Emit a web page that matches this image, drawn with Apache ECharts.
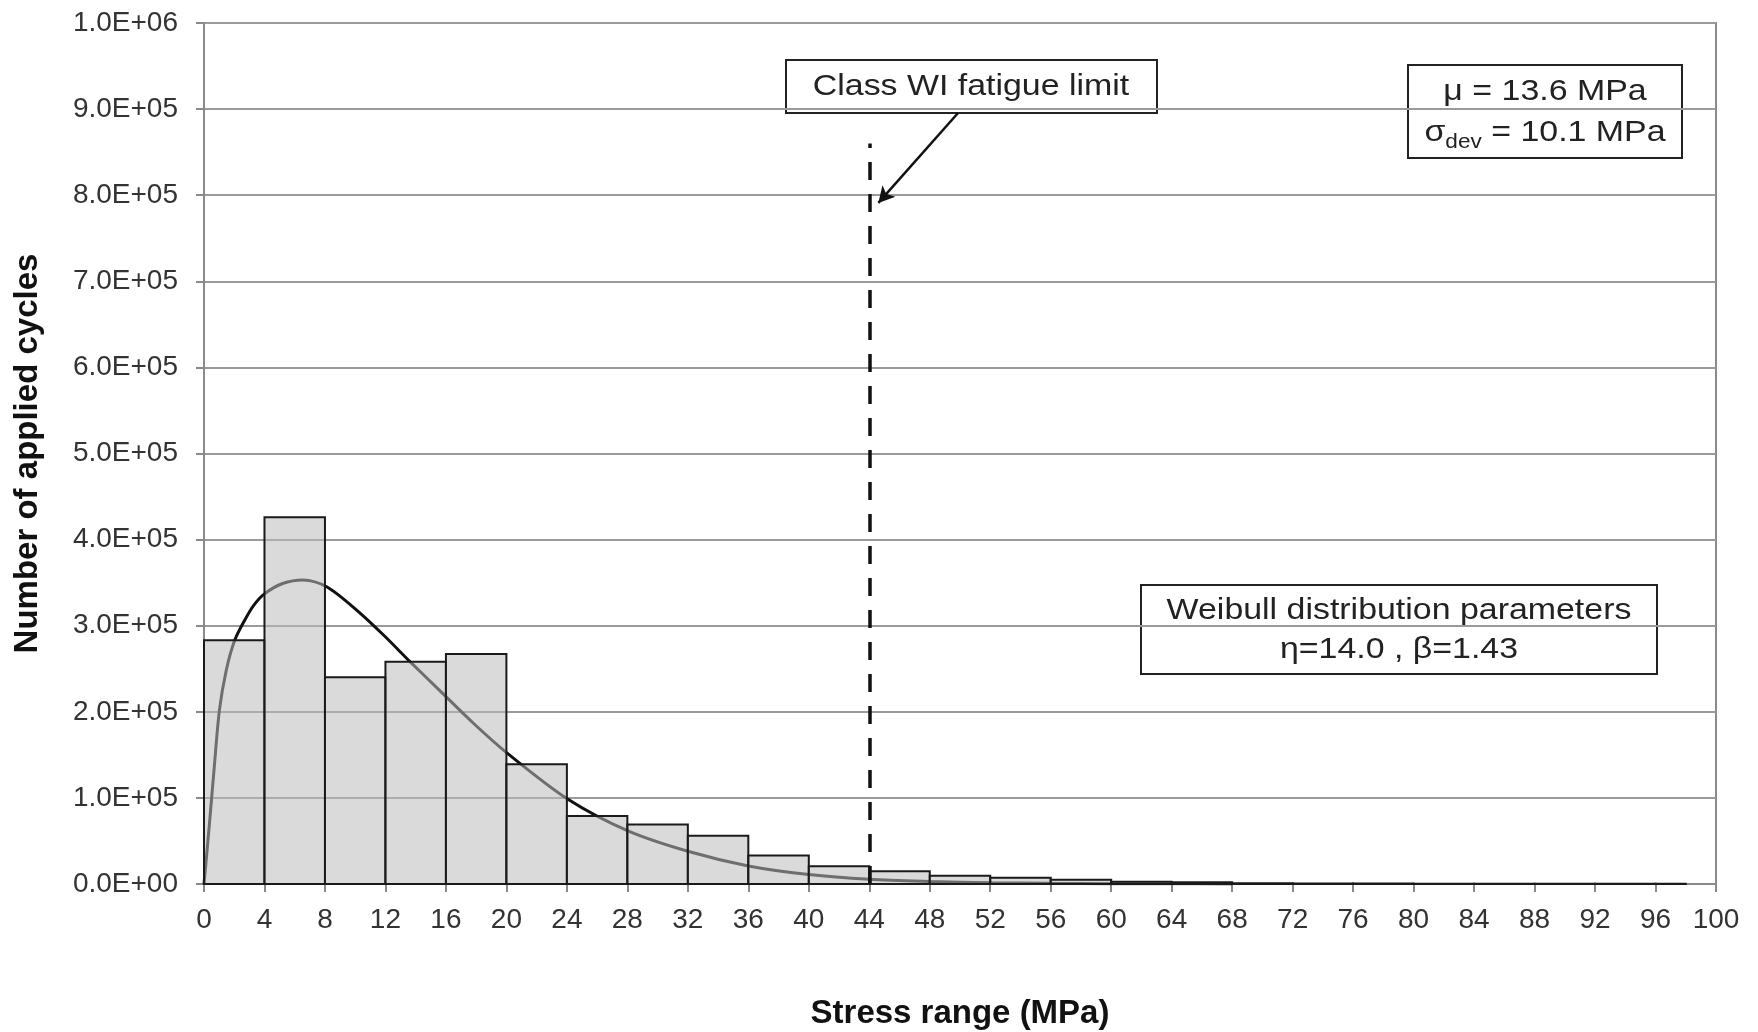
<!DOCTYPE html>
<html>
<head>
<meta charset="utf-8">
<script src="https://cdn.jsdelivr.net/npm/echarts@6/dist/echarts.min.js"></script>
<style>
  html, body { margin: 0; padding: 0; background: #fff; }
  #chart { width: 1758px; height: 1032px; }
</style>
</head>
<body>
<div id="chart"></div>
<script>
// histogram bins (MPa) and counted cycles
const binStart = [0, 4, 8, 12, 16, 20, 24, 28, 32, 36, 40, 44, 48, 52, 56, 60, 64, 68, 72, 76, 80, 84, 88, 92, 96];
const binEnd = [4, 8, 12, 16, 20, 24, 28, 32, 36, 40, 44, 48, 52, 56, 60, 64, 68, 72, 76, 80, 84, 88, 92, 96, 98];
const cycles = [283000, 426000, 240000, 258000, 267000, 139000, 79000, 69000, 56000, 33000, 20500, 14700, 9700, 7300, 5000, 2700, 2000,
    800, 600, 500, 400, 300, 300, 200, 200];

// fitted Weibull curve
const curveX = [0, 0.34, 0.68, 1.02, 1.47, 2.03, 2.71, 3.3, 4.0, 5.2, 6.55, 8.14, 10.3, 11.94, 13.64, 15.63, 17.8, 20.05, 24.02, 28.0,
    32.0, 36.0, 40.0, 44.0, 48.0, 52.0, 56.0, 60.0, 64.0, 68.0];
const curveY = [0, 66000, 136000, 202000, 248000, 283000, 307000, 324000, 337000, 349000, 353000, 345000, 315000, 288000, 258000, 224000,
    187000, 152000, 99000, 62000, 38000, 21000, 11000, 5500, 3000, 1500, 800, 400, 200, 100];

const xTicks = [0, 100, 4];          // min, max, interval
const yTicks = [0, 1000000, 100000]; // min, max, interval
const fatigueLimit = 44;
const fatigueTop = 860000;

const FONT = '"Liberation Sans", Arial, sans-serif';
const SX = 1.13; // the source text is a little wider than Liberation Sans

function sciLabel(v) {
    if (v === 0) return '0.0E+00';
    let e = Math.floor(Math.log10(v) + 1e-9);
    let m = v / Math.pow(10, e);
    return m.toFixed(1) + 'E+' + String(e).padStart(2, '0');
}

function boxText(x, y, text) {
    return {
        type: 'text', x: x, y: y, scaleX: SX,
        style: { text: text, font: '30px ' + FONT, fill: '#222', align: 'center', verticalAlign: 'middle' }
    };
}

let option = {
    backgroundColor: '#fff',
    animation: false,
    grid: {
        left: 204, right: 42, top: 23, bottom: 148,
        outerBoundsMode: 'none',
        containLabel: false,
        show: true,
        borderColor: '#8a8a8a',
        borderWidth: 2
    },
    xAxis: {
        type: 'value',
        min: xTicks[0], max: xTicks[1], interval: xTicks[2],
        name: 'Stress range (MPa)',
        nameLocation: 'middle',
        nameGap: 113,
        nameTextStyle: { fontFamily: FONT, fontSize: 33, fontWeight: 'bold', color: '#111' },
        axisLine: { lineStyle: { color: '#8a8a8a', width: 2 } },
        axisTick: { length: 8, lineStyle: { color: '#8a8a8a', width: 2 } },
        axisLabel: { fontFamily: FONT, fontSize: 28, color: '#333', margin: 22 },
        splitLine: { show: false }
    },
    yAxis: {
        type: 'value',
        min: yTicks[0], max: yTicks[1], interval: yTicks[2],
        name: 'Number of applied cycles',
        nameLocation: 'middle',
        nameGap: 160,
        nameTextStyle: { fontFamily: FONT, fontSize: 33, fontWeight: 'bold', color: '#111' },
        axisLine: { show: true, lineStyle: { color: '#8a8a8a', width: 2 } },
        axisTick: { show: true, length: 8, lineStyle: { color: '#8a8a8a', width: 2 } },
        axisLabel: { fontFamily: FONT, fontSize: 28, color: '#333', margin: 26, formatter: sciLabel },
        splitLine: { lineStyle: { color: '#9a9a9a', width: 2 } }
    },
    series: [
        {
            // Weibull curve, drawn under the translucent bars
            type: 'line',
            z: 1,
            data: curveX.map((x, i) => [x, curveY[i]]),
            smooth: 0.3,
            showSymbol: false,
            lineStyle: { color: '#111', width: 3 }
        },
        {
            type: 'custom',
            z: 2,
            data: binStart.map((s, i) => [s, binEnd[i], cycles[i]]),
            encode: { x: [0, 1], y: 2 },
            renderItem: function (params, api) {
                let p0 = api.coord([api.value(0), api.value(2)]);
                let p1 = api.coord([api.value(1), 0]);
                return {
                    type: 'rect',
                    shape: { x: p0[0], y: p0[1], width: p1[0] - p0[0], height: p1[1] - p0[1] },
                    style: { fill: 'rgba(188,188,188,0.55)', stroke: '#1a1a1a', lineWidth: 2 }
                };
            }
        },
        {
            // fatigue limit line and callout arrow
            type: 'line',
            z: 5,
            data: [],
            markLine: {
                silent: true,
                animation: false,
                label: { show: false },
                data: [
                    [
                        { coord: [fatigueLimit, 0], symbol: 'none', lineStyle: { color: '#111', width: 3.5, type: [18, 14] } },
                        { coord: [fatigueLimit, fatigueTop], symbol: 'none' }
                    ],
                    [
                        { coord: [49.87, 895500], symbol: 'none', lineStyle: { color: '#111', width: 2.5, type: 'solid' } },
                        { coord: [44.6, 791000], symbol: 'arrow', symbolSize: [13, 16] }
                    ]
                ]
            }
        }
    ],
    graphic: [
        {
            type: 'group',
            children: [
                { type: 'rect', shape: { x: 786, y: 60, width: 371, height: 53 },
                  style: { fill: '#fff', stroke: '#222', lineWidth: 2 } },
                boxText(971, 87, 'Class WI fatigue limit')
            ]
        },
        {
            type: 'group',
            children: [
                { type: 'rect', shape: { x: 1408, y: 65, width: 274, height: 93 },
                  style: { fill: '#fff', stroke: '#222', lineWidth: 2 } },
                boxText(1545, 92, 'μ = 13.6 MPa'),
                { type: 'text', x: 1545, y: 133, scaleX: SX,
                  style: {
                      text: '{a|σ}{b|dev}{a| = 10.1 MPa}',
                      align: 'center', verticalAlign: 'middle',
                      rich: {
                          a: { fontFamily: FONT, fontSize: 30, fill: '#222' },
                          b: { fontFamily: FONT, fontSize: 20, fill: '#222', padding: [18, 0, 0, 0] }
                      }
                  } }
            ]
        },
        {
            type: 'group',
            children: [
                { type: 'rect', shape: { x: 1141, y: 585, width: 516, height: 89 },
                  style: { fill: '#fff', stroke: '#222', lineWidth: 2 } },
                boxText(1399, 611, 'Weibull distribution parameters'),
                boxText(1399, 650, 'η=14.0 , β=1.43')
            ]
        }
    ]
};

var myChart = echarts.init(document.getElementById('chart'));
myChart.setOption(option, true);
</script>
</body>
</html>
